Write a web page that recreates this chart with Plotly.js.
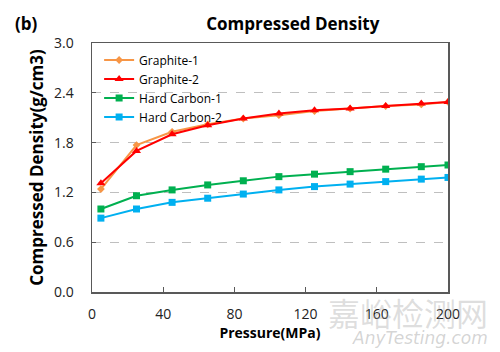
<!DOCTYPE html>
<html>
<head>
<meta charset="utf-8">
<script src="https://cdn.plot.ly/plotly-3.0.1.min.js"></script>
<style>html,body{margin:0;padding:0;background:#fff;}#chart{width:500px;height:352px;}</style>
</head>
<body>
<div id="chart"></div>
<script>
const pressure = [5, 25, 45, 65, 85, 105, 125, 145, 165, 185, 200];
const graphite1 = [1.24, 1.77, 1.93, 2.02, 2.09, 2.13, 2.18, 2.21, 2.24, 2.26, 2.29];
const graphite2 = [1.31, 1.70, 1.90, 2.01, 2.09, 2.15, 2.19, 2.21, 2.24, 2.27, 2.29];
const hardCarbon1 = [1.00, 1.16, 1.23, 1.29, 1.34, 1.39, 1.42, 1.45, 1.48, 1.51, 1.53];
const hardCarbon2 = [0.89, 1.00, 1.08, 1.13, 1.18, 1.23, 1.27, 1.30, 1.33, 1.36, 1.38];
const seriesNames = ['Graphite-1', 'Graphite-2', 'Hard Carbon-1', 'Hard Carbon-2'];
const xTicks = [0, 40, 80, 120, 160, 200];
const yTicks = [0.0, 0.6, 1.2, 1.8, 2.4, 3.0];

const FONT = '"Open Sans", "Noto Sans", sans-serif';
const traces = [
  {x: pressure, y: graphite1, name: seriesNames[0], mode: 'lines+markers',
   line: {color: '#F79646', width: 2}, marker: {symbol: 'diamond', size: 6, color: '#F79646'}},
  {x: pressure, y: graphite2, name: seriesNames[1], mode: 'lines+markers',
   line: {color: '#FF0000', width: 2}, marker: {symbol: 'triangle-up', size: 8, color: '#FF0000'}},
  {x: pressure, y: hardCarbon1, name: seriesNames[2], mode: 'lines+markers',
   line: {color: '#00B050', width: 2}, marker: {symbol: 'square', size: 7, color: '#00B050'}},
  {x: pressure, y: hardCarbon2, name: seriesNames[3], mode: 'lines+markers',
   line: {color: '#00B0F0', width: 2}, marker: {symbol: 'square', size: 7, color: '#00B0F0'}}
];

const layout = {
  width: 500, height: 352,
  margin: {l: 92, r: 52, t: 43, b: 60},
  paper_bgcolor: '#fff', plot_bgcolor: '#fff',
  font: {family: FONT, color: '#000', size: 12},
  title: {text: '<b>Compressed Density</b>', font: {size: 17, color: '#000', family: FONT},
          x: 282/500, xref: 'paper', xanchor: 'center', y: 1 - 24/352, yanchor: 'middle'},
  xaxis: {
    range: [0, 200], tickvals: xTicks, ticktext: xTicks.map(String),
    showgrid: false, zeroline: false, showline: true, linecolor: '#595959', linewidth: 1.5, mirror: true,
    ticks: 'inside', ticklen: 5, tickcolor: '#595959', ticklabelstandoff: 9,
    tickfont: {size: 14, color: '#222', family: FONT},
    title: {text: '<b>Pressure(MPa)</b>', font: {size: 14, color: '#000', family: FONT}, standoff: 1}
  },
  yaxis: {
    range: [0, 3.0], tickvals: yTicks, ticktext: yTicks.map(v => v.toFixed(1)),
    showgrid: true, gridcolor: '#BFBFBF', griddash: 'dash', gridwidth: 1,
    zeroline: false, showline: true, linecolor: '#595959', linewidth: 1.5, mirror: true,
    ticks: 'inside', ticklen: 4, tickcolor: '#595959', ticklabelstandoff: 14,
    tickfont: {size: 14, color: '#222', family: FONT},
    title: {text: '<b>Compressed Density(g/cm3)</b>', font: {size: 17, color: '#000', family: FONT}, standoff: 6}
  },
  showlegend: true,
  legend: {x: 0.02, y: 0.99, xanchor: 'left', yanchor: 'top', bgcolor: 'rgba(0,0,0,0)',
           font: {size: 12, color: '#000', family: FONT}, tracegroupgap: 0, itemwidth: 30},
  annotations: [
    {text: '<b>(b)</b>', xref: 'paper', yref: 'paper', x: (13-92)/356, y: 1 + 19/249,
     xanchor: 'left', yanchor: 'middle', showarrow: false, font: {size: 17, color: '#000', family: FONT}},
    {text: '嘉峪检测网', xref: 'paper', yref: 'paper', x: (490-92)/356, y: -20/249,
     xanchor: 'right', yanchor: 'middle', showarrow: false,
     font: {size: 32, color: 'rgba(160,160,160,0.35)', family: '"Noto Sans CJK SC", sans-serif'}},
    {text: '<i>AnyTesting.com</i>', xref: 'paper', yref: 'paper', x: (490-92)/356, y: -46/249,
     xanchor: 'right', yanchor: 'middle', showarrow: false,
     font: {size: 17, color: 'rgba(160,160,160,0.45)', family: '"DejaVu Sans", sans-serif'}}
  ]
};

Plotly.newPlot('chart', traces, layout, {displayModeBar: false, staticPlot: true});
</script>
</body>
</html>
